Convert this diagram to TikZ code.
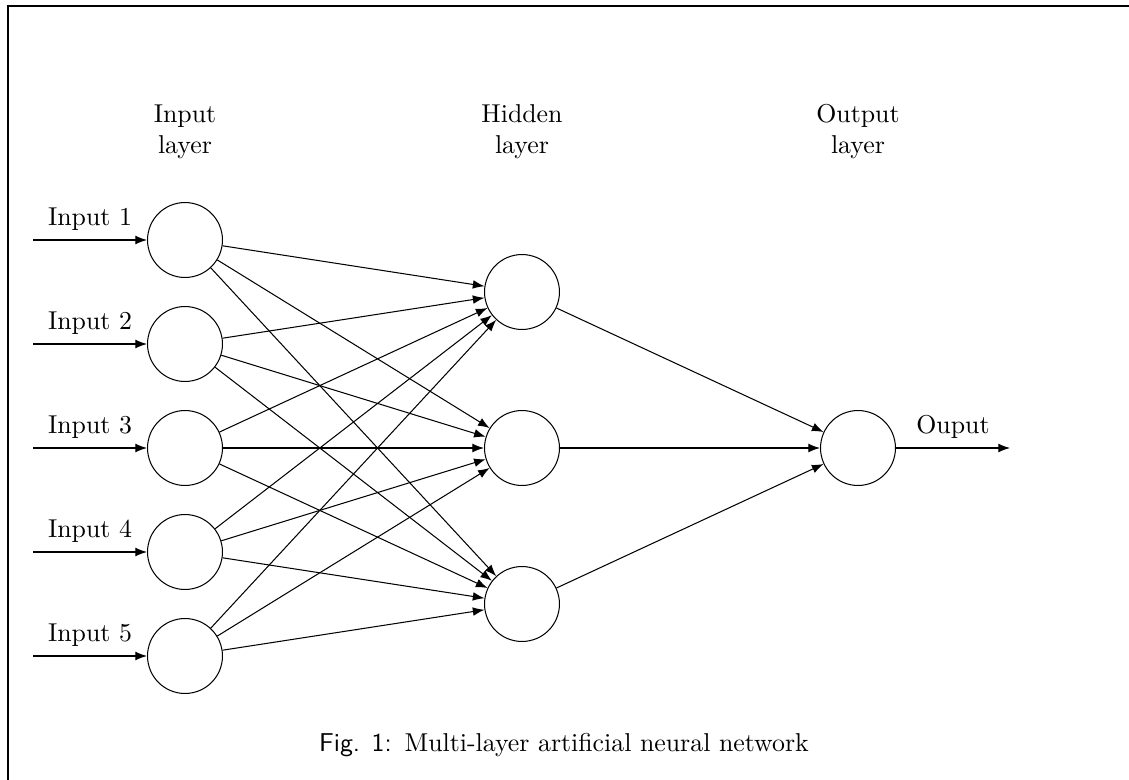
\documentclass[tikz,border=0pt]{standalone}
\usetikzlibrary{arrows.meta}
\begin{document}
\begin{tikzpicture}[x=0.013605cm, y=-0.013605cm,
  neuron/.style={circle, draw, minimum size=1.02cm, inner sep=0pt},
  link/.style={-{Latex[length=4.5pt,width=3.4pt]}},
  layerlabel/.style={align=center, font=\fontsize{10}{12}\selectfont}]
  \useasboundingbox (0,0) rectangle (1129,780);
  % page frame (top and left edges)
  \draw[line width=0.4pt] (1129,6) -- (8,6) -- (8,780);

  % input layer
  \foreach \i/\y in {1/240,2/344,3/448,4/552,5/656} {
    \node[neuron] (I\i) at (185,\y) {};
    \coordinate (S\i) at (33,\y);
    \draw[link] (S\i) -- node[above, pos=0.5] {Input \i} (I\i);
  }

  % hidden layer
  \foreach \j/\y in {1/292,2/448,3/604} {
    \node[neuron] (H\j) at (522,\y) {};
  }

  % output layer
  \node[neuron] (O) at (858,448) {};
  \coordinate (E) at (1010,448);
  \draw[link] (O) -- node[above, pos=0.5] {Ouput} (E);

  % connections
  \foreach \i in {1,...,5} {
    \foreach \j in {1,2,3} {
      \draw[link] (I\i) -- (H\j);
    }
  }
  \foreach \j in {1,2,3} {
    \draw[link] (H\j) -- (O);
  }

  % layer titles
  \node[layerlabel] (TI) at (185,132) {Input\\layer};
  \node[layerlabel] (TH) at (522,132) {Hidden\\layer};
  \node[layerlabel] (TO) at (858,132) {Output\\layer};

  % caption
  \node (cap) at (564,745) {\textsf{Fig. 1:}\hspace{0.5em}Multi-layer artificial neural network};
\end{tikzpicture}
\end{document}
